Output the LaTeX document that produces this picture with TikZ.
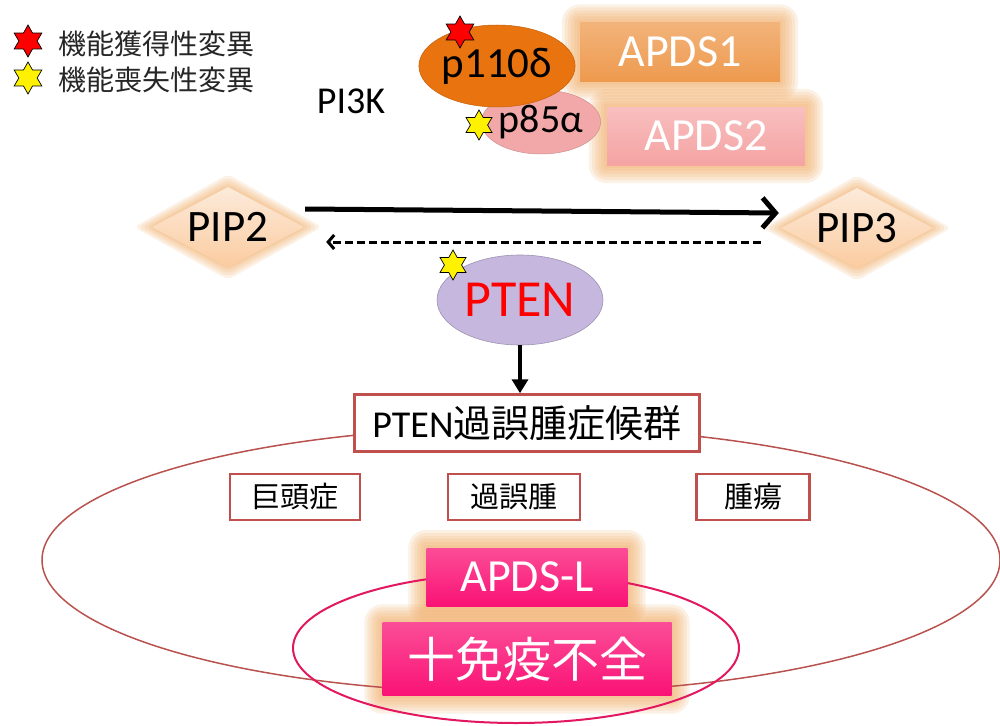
\documentclass[tikz,border=0pt]{standalone}
\usepackage{fontspec}
\setmainfont{Carlito}
\newfontfamily\jp{Noto Sans CJK JP}
\usetikzlibrary{shapes.geometric,arrows.meta,calc,backgrounds}
\pgfdeclarelayer{glowlayer}
\pgfsetlayers{background,glowlayer,main}
\definecolor{boxred}{HTML}{C0504D}
\definecolor{bigell}{HTML}{B8524E}
\definecolor{pinkell}{HTML}{E2175F}
\definecolor{orangeE}{HTML}{E8730F}
\definecolor{pinkE}{HTML}{F2A8A8}
\definecolor{apdsA}{HTML}{EE9A4E}
\definecolor{apdsB}{HTML}{F5A3A3}
\definecolor{apdsL}{HTML}{FA1275}
\definecolor{pip}{HTML}{FAD6B6}
\definecolor{glow}{HTML}{EFA860}
\definecolor{pten}{HTML}{C5B7DD}
\newcommand\fs[1]{\fontsize{#1}{#1}\selectfont}
\newcommand\rectglow[2]{%
  \begin{pgfonlayer}{glowlayer}
  \foreach \r in {18,15,12,9,6,3}{
    \fill[#2, opacity=0.16, rounded corners=\r pt] ($(#1.south west)+(-\r,\r)$) rectangle ($(#1.north east)+(\r,-\r)$);
  }
  \end{pgfonlayer}}
\newcommand\diaglow[2]{%
  \begin{pgfonlayer}{glowlayer}
  \foreach \r in {18,14,10,6,3}{
    \fill[#2, opacity=0.16, rounded corners=6pt] ($(#1.west)+(-\r,0)$) -- ($(#1.north)+(0,-0.7*\r)$) -- ($(#1.east)+(\r,0)$) -- ($(#1.south)+(0,0.7*\r)$) -- cycle;
  }
  \end{pgfonlayer}}
\tikzset{
  x=1pt, y=-1pt,
  every node/.style={inner sep=0pt},
  leg/.style={font=\jp\fs{28}, anchor=west, text=black!85},
  gstar/.style={star, star points=6, star point ratio=1.75, draw=black, line width=0.7pt, minimum size=#1},
  apds/.style={minimum width=#1, text=white, font=\fs{46}},
  redbox/.style={draw=boxred, line width=2.5pt, fill=white, minimum height=46pt},
  pipd/.style={diamond, minimum width=152pt, minimum height=80pt, shape aspect=1.9, top color=pip!50!white, bottom color=pip!88!orange, font=\fs{45}},
}
\begin{document}
\begin{tikzpicture}
\useasboundingbox (0,0) rectangle (1000,725);
% legend
\node[gstar=32pt, fill=red] (s1) at (28,41) {};
\node[leg] (l1) at (58,44) {機能獲得性変異};
\node[gstar=32pt, fill=yellow] (s2) at (28,78) {};
\node[leg] (l2) at (58,80) {機能喪失性変異};
% PI3K
\node[font=\fs{38}] (pi3k) at (351,101) {PI3K};
\node[ellipse, minimum width=112pt, minimum height=64pt, fill=pinkE, draw=pinkE!85!black, line width=0.5pt, font=\fs{40}] (p85) at (541,122) {p85α};
\node[ellipse, minimum width=154pt, minimum height=82pt, fill=orangeE, draw=orangeE!85!black, line width=0.5pt, font=\fs{43}] (p110) at (497,66) {p110δ};
\node[gstar=32pt, fill=red] (s3) at (460,32) {};
\node[gstar=30pt, fill=yellow] (s4) at (479,125) {};
% APDS1/2
\node[apds=200pt, minimum height=59pt, top color=apdsA!75!white, bottom color=apdsA] (a1) at (680,52) {APDS1};
\node[apds=198pt, minimum height=58pt, top color=apdsB!70!white, bottom color=apdsB] (a2) at (706,136) {APDS2};
\rectglow{a1}{glow}
\rectglow{a2}{glow}
% PIP
\node[pipd] (pip2) at (228,227) {\makebox[0pt]{PIP2}};
\node[pipd] (pip3) at (857,228) {\makebox[0pt]{PIP3}};
\diaglow{pip2}{glow}
\diaglow{pip3}{glow}
\draw[line width=5pt, -{Straight Barb[length=13pt, width=30pt]}] ($(pip2.east)+(1,-18)$) -- ($(pip3.west)+(-2,-15)$);
\draw[line width=3pt, dash pattern=on 8pt off 4pt, -{Straight Barb[length=6pt, width=14pt]}] ($(pip3.west)+(-20,14)$) -- ($(pip2.east)+(22,15)$);
% PTEN
\node[ellipse, minimum width=166pt, minimum height=90pt, fill=pten, draw=pten!80!black, line width=0.6pt, text=red, font=\fs{52}] (pten) at (520,300) {PTEN};
\node[gstar=30pt, fill=yellow] (s5) at (453,265) {};
% big ellipses
\draw[bigell, line width=1.5pt] (521,560) ellipse [x radius=479, y radius=133];
\draw[pinkell, line width=2pt] (516,648) ellipse [x radius=223, y radius=75];
\node[redbox, minimum width=345pt, minimum height=57pt, font=\fs{38}] (ptb) at (527,423) {PTEN{\jp 過誤腫症候群}};
\draw[line width=4pt, -{Triangle[length=14pt, width=16pt]}] (pten.south) -- (pten.south |- ptb.north);
\node[redbox, minimum width=130pt, font=\jp\fs{29}] (b1) at (295,497) {巨頭症};
\node[redbox, minimum width=132pt, font=\jp\fs{29}] (b2) at (514,497) {過誤腫};
\node[redbox, minimum width=113pt, font=\jp\fs{29}] (b3) at (753,497) {腫瘍};
% APDS-L
\node[apds=201pt, minimum height=58pt, top color=apdsL!75!white, bottom color=apdsL] (al) at (527,577) {APDS-L};
\node[apds=289pt, minimum height=73pt, top color=apdsL!75!white, bottom color=apdsL, font=\jp\fs{48}] (im) at (527,659) {十免疫不全};
\rectglow{al}{glow}
\rectglow{im}{glow}
\end{tikzpicture}
\end{document}
